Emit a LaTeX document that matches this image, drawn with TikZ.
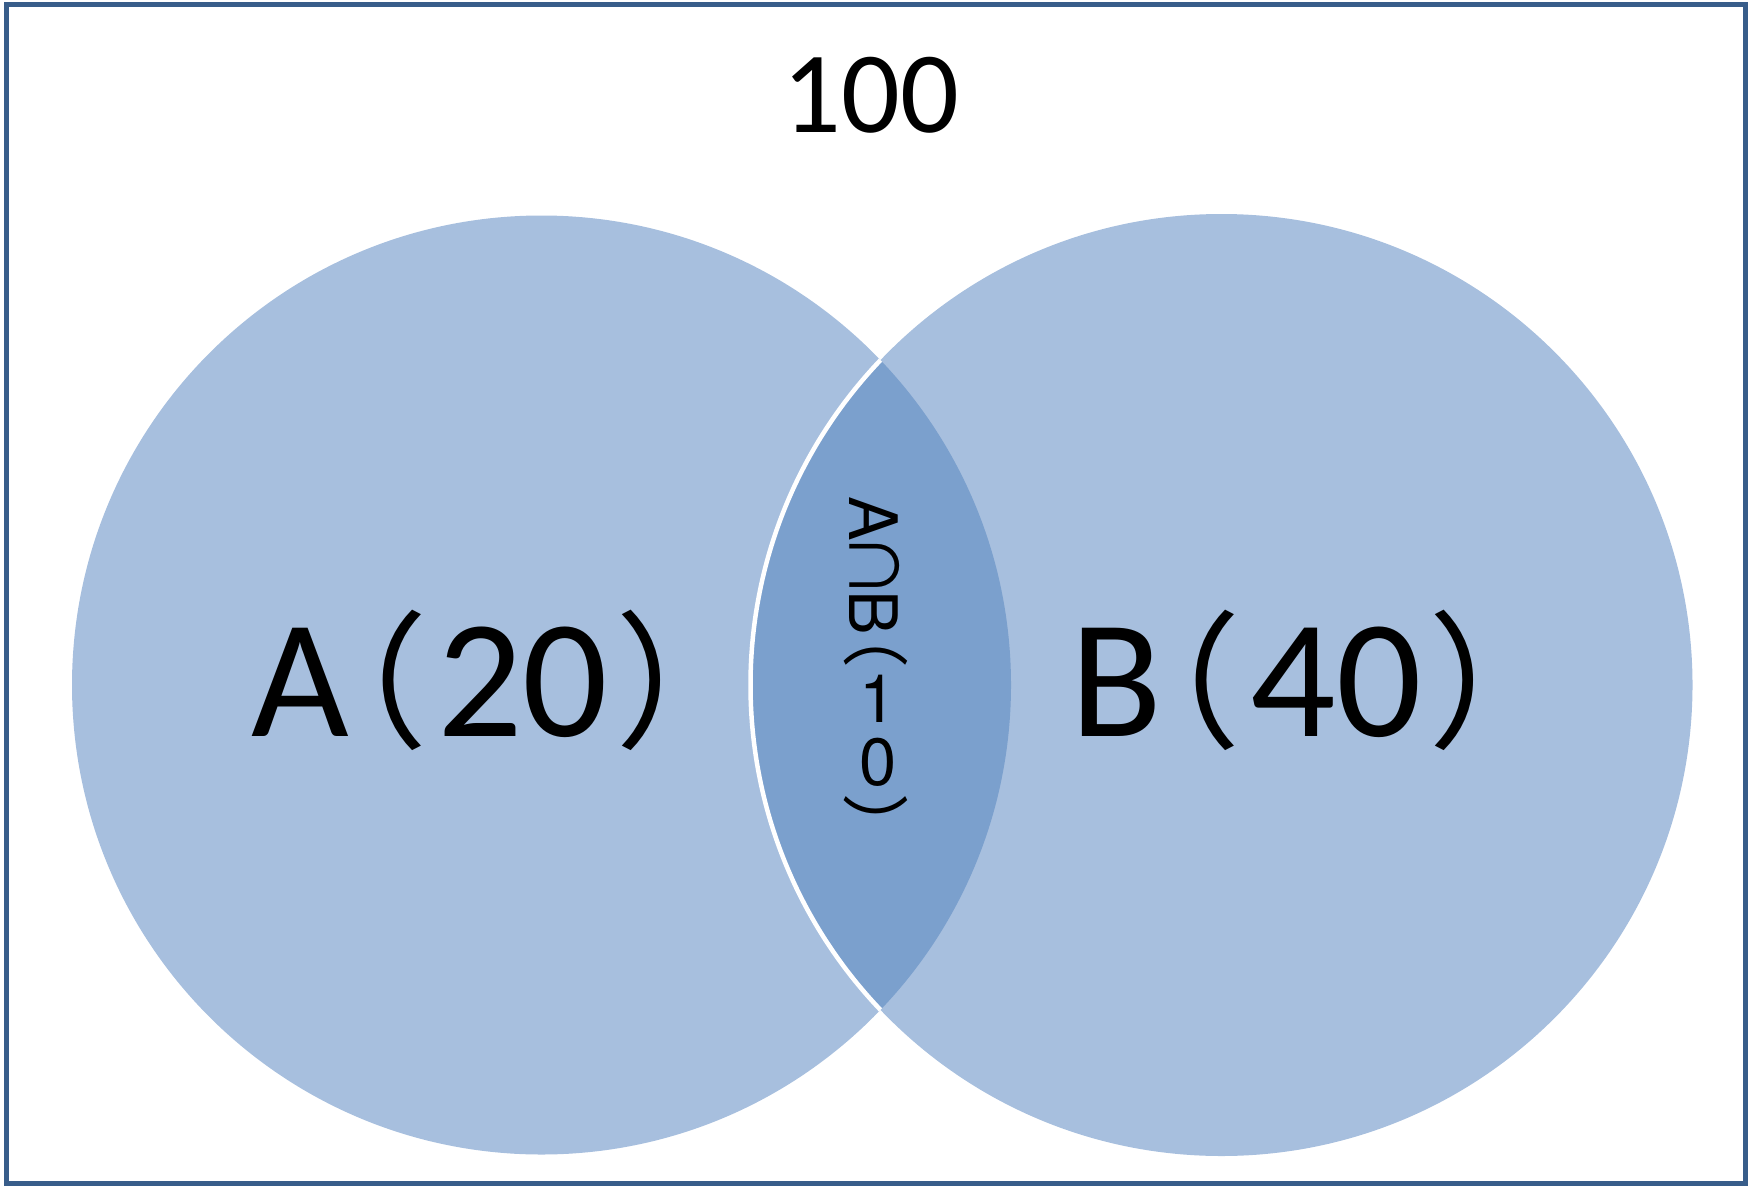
\documentclass[tikz,border=0pt]{standalone}
\usepackage{fontspec}
\setmainfont{Carlito}
\newfontfamily\cjk{Noto Sans CJK SC}
\newfontfamily\lensfont{TeX Gyre Heros}
\definecolor{setfill}{HTML}{A7BFDE}
\definecolor{lensfill}{HTML}{7BA0CD}
\definecolor{framecol}{HTML}{385D8A}
\newcommand{\bigopen}{\kern-19.6pt{\cjk\fontsize{42}{50}\selectfont （}\kern2.6pt}
\newcommand{\bigclose}{\kern2pt{\cjk\fontsize{42}{50}\selectfont ）}}
\tikzset{
  setlabel/.style={font=\fontsize{48}{58}\selectfont, inner sep=0pt, anchor=base west},
  lenstext/.style={font=\lensfont\fontsize{19}{23}\selectfont, inner sep=0pt},
  lensturn/.style={lenstext, rotate=-90}
}
\begin{document}
\begin{tikzpicture}[x=0.01cm, y=-0.01cm]
\useasboundingbox (0, 0) rectangle (1761, 1185);

\coordinate (A) at (541.5, 685);
\coordinate (B) at (1221.5, 685);

% universe
\draw [framecol, line width=0.05cm] (6.5, 4.5) rectangle (1745.5, 1183);
\node (total) [font=\fontsize{33}{40}\selectfont, inner sep=0pt] at (871, 95) {100};

% the two sets
\fill [setfill] (A) circle (469.5);
\fill [setfill] (B) circle (471);

\begin{scope}
\clip (A) circle (469.5);
\fill [lensfill, draw=white, line width=0.045cm] (B) circle (471);
\end{scope}

\node (setA) [setlabel] at (251, 736) {A\bigopen 20\bigclose};
\node (setB) [setlabel] at (1070, 736) {B\bigopen 40\bigclose};

% vertical text in the lens
\node (lensAB) [lensturn] at (875, 566) {A\kern-2.5pt{\cjk ∩}\kern-2.5pt B};
\node (lensOpen) [lensturn] at (876, 635) {\cjk （};
\node (lensOne) [lenstext] at (878, 699) {1};
\node (lensZero) [lenstext] at (878, 762) {0};
\node (lensClose) [lensturn] at (876, 827) {\cjk ）};

\end{tikzpicture}
\end{document}
